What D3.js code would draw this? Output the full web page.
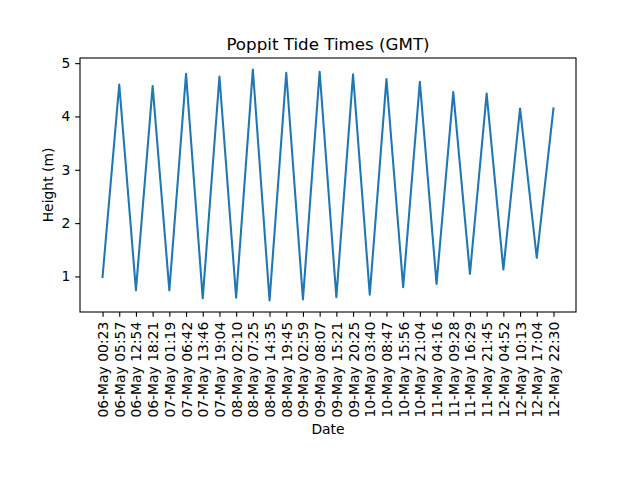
<!DOCTYPE html>
<html>
<head>
<meta charset="utf-8">
<script src="https://cdn.jsdelivr.net/npm/d3@7"></script>
<style>
  body { margin: 0; background: #fff; }
  text { font-family: "DejaVu Sans", sans-serif; fill: #000; }
</style>
</head>
<body>
<svg id="chart" width="640" height="480"></svg>
<script>
const labels = [
  "06-May 00:23","06-May 05:57","06-May 12:54","06-May 18:21",
  "07-May 01:19","07-May 06:42","07-May 13:46","07-May 19:04",
  "08-May 02:10","08-May 07:25","08-May 14:35","08-May 19:45",
  "09-May 02:59","09-May 08:07","09-May 15:21","09-May 20:25",
  "10-May 03:40","10-May 08:47","10-May 15:56","10-May 21:04",
  "11-May 04:16","11-May 09:28","11-May 16:29","11-May 21:45",
  "12-May 04:52","12-May 10:13","12-May 17:04","12-May 22:30"
];
const heights = [
  0.99, 4.60, 0.74, 4.57,
  0.74, 4.80, 0.59, 4.75,
  0.60, 4.88, 0.55, 4.82,
  0.57, 4.84, 0.61, 4.79,
  0.66, 4.70, 0.80, 4.65,
  0.86, 4.46, 1.05, 4.43,
  1.13, 4.15, 1.35, 4.15
];
const yTicks = [1, 2, 3, 4, 5];
const titleText = "Poppit Tide Times (GMT)";
const xLabel = "Date";
const yLabel = "Height (m)";

const svg = d3.select("#chart");
const L = 80, R = 576, T = 58, B = 312;

const n = labels.length;
const xm = (n - 1) * 0.05;
const x = d3.scaleLinear().domain([-xm, n - 1 + xm]).range([L, R]);
const ymin = d3.min(heights), ymax = d3.max(heights);
const ym = (ymax - ymin) * 0.05;
const y = d3.scaleLinear().domain([ymin - ym, ymax + ym]).range([B, T]);

// line
const line = d3.line().x((d, i) => x(i)).y(d => y(d));
svg.append("path")
  .datum(heights)
  .attr("d", line)
  .attr("fill", "none")
  .attr("stroke", "#1f77b4")
  .attr("stroke-width", 2.08)
  .attr("stroke-linejoin", "round")
  .attr("stroke-linecap", "square");

// frame
svg.append("rect")
  .attr("x", L).attr("y", T)
  .attr("width", R - L).attr("height", B - T)
  .attr("fill", "none").attr("stroke", "#000").attr("stroke-width", 1.1);

// x axis
const xAxis = d3.axisBottom(x)
  .tickValues(d3.range(n))
  .tickFormat(i => labels[i])
  .tickSize(4.86)
  .tickPadding(4.86);
const gx = svg.append("g").attr("transform", `translate(0,${B})`).call(xAxis);
gx.select(".domain").remove();
gx.selectAll(".tick line").attr("stroke", "#000").attr("stroke-width", 1.1);
gx.selectAll(".tick text")
  .attr("font-size", "13.9px")
  .attr("font-family", "DejaVu Sans, sans-serif")
  .attr("text-anchor", "end")
  .attr("dy", null)
  .attr("y", 0)
  .attr("dominant-baseline", "central")
  .attr("transform", "translate(0,9.72) rotate(-90)");

// y axis
const yAxis = d3.axisLeft(y)
  .tickValues(yTicks)
  .tickFormat(d3.format("d"))
  .tickSize(4.86)
  .tickPadding(4.86);
const gy = svg.append("g").attr("transform", `translate(${L},0)`).call(yAxis);
gy.select(".domain").remove();
gy.selectAll(".tick line").attr("stroke", "#000").attr("stroke-width", 1.1);
gy.selectAll(".tick text")
  .attr("font-size", "13.9px")
  .attr("font-family", "DejaVu Sans, sans-serif");

// title
svg.append("text")
  .attr("x", (L + R) / 2).attr("y", 49.5)
  .attr("text-anchor", "middle")
  .attr("font-size", "16.7px")
  .text(titleText);

// x label
svg.append("text")
  .attr("x", (L + R) / 2).attr("y", 434)
  .attr("text-anchor", "middle")
  .attr("font-size", "13.9px")
  .text(xLabel);

// y label
svg.append("text")
  .attr("transform", `translate(53,${(T + B) / 2}) rotate(-90)`)
  .attr("text-anchor", "middle")
  .attr("font-size", "13.9px")
  .text(yLabel);
</script>
</body>
</html>
